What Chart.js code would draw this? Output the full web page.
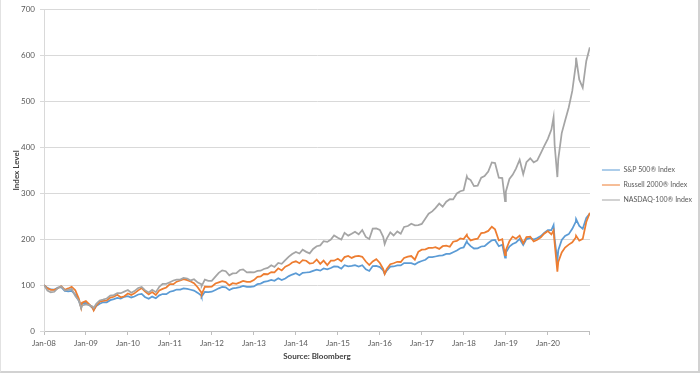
<!DOCTYPE html>
<html>
<head>
<meta charset="utf-8">
<script src="https://cdn.jsdelivr.net/npm/chart.js@4.4.0/dist/chart.umd.min.js"></script>
<style>
  html, body { margin: 0; padding: 0; background: #fff; }
  #wrap { position: relative; width: 697px; height: 371px; border-left: 1px solid #e2e2e2; border-right: 2px solid #d2d2d2; border-bottom: 2px solid #d2d2d2; }
</style>
</head>
<body>
<div id="wrap"><canvas id="grafico_idx"></canvas></div>
<script>
// dates of the observations (month ends plus a few intra-month extremes)
const datas = [
  '2008-01-01','2008-01-31','2008-02-29','2008-03-31','2008-04-30','2008-05-30','2008-06-30','2008-07-31','2008-08-29','2008-09-30','2008-10-31','2008-11-20','2008-11-28','2008-12-31',
  '2009-01-30','2009-02-27','2009-03-09','2009-03-31','2009-04-30','2009-05-29','2009-06-30','2009-07-31','2009-08-31','2009-09-30','2009-10-30','2009-11-30','2009-12-31',
  '2010-01-29','2010-02-26','2010-03-31','2010-04-30','2010-05-28','2010-06-30','2010-07-30','2010-08-31','2010-09-30','2010-10-29','2010-11-30','2010-12-31',
  '2011-01-31','2011-02-28','2011-03-31','2011-04-29','2011-05-31','2011-06-30','2011-07-29','2011-08-31','2011-09-30','2011-10-03','2011-10-31','2011-11-30','2011-12-30',
  '2012-01-31','2012-02-29','2012-03-30','2012-04-30','2012-05-31','2012-06-29','2012-07-31','2012-08-31','2012-09-28','2012-10-31','2012-11-30','2012-12-31',
  '2013-01-31','2013-02-28','2013-03-28','2013-04-30','2013-05-31','2013-06-28','2013-07-31','2013-08-30','2013-09-30','2013-10-31','2013-11-29','2013-12-31',
  '2014-01-31','2014-02-28','2014-03-31','2014-04-30','2014-05-30','2014-06-30','2014-07-31','2014-08-29','2014-09-30','2014-10-31','2014-11-28','2014-12-31',
  '2015-01-30','2015-02-27','2015-03-31','2015-04-30','2015-05-29','2015-06-30','2015-07-31','2015-08-31','2015-09-30','2015-10-30','2015-11-30','2015-12-31',
  '2016-01-29','2016-02-11','2016-02-29','2016-03-31','2016-04-29','2016-05-31','2016-06-30','2016-07-29','2016-08-31','2016-09-30','2016-10-31','2016-11-30','2016-12-30',
  '2017-01-31','2017-02-28','2017-03-31','2017-04-28','2017-05-31','2017-06-30','2017-07-31','2017-08-31','2017-09-29','2017-10-31','2017-11-30','2017-12-29',
  '2018-01-26','2018-01-31','2018-02-28','2018-03-29','2018-04-30','2018-05-31','2018-06-29','2018-07-31','2018-08-31','2018-09-28','2018-10-31','2018-11-30','2018-12-24','2018-12-31',
  '2019-01-31','2019-02-28','2019-03-29','2019-04-30','2019-05-31','2019-06-28','2019-07-31','2019-08-30','2019-09-30','2019-10-31','2019-11-29','2019-12-31',
  '2020-01-31','2020-02-19','2020-02-28','2020-03-23','2020-03-31','2020-04-30','2020-05-29','2020-06-30','2020-07-31','2020-08-31','2020-09-02','2020-09-30','2020-10-30','2020-11-30','2020-12-31'
];

const sp500 = [
  100, 93.9, 90.6, 90.1, 94.4, 95.4, 87.2, 86.3, 87.4, 79.4, 66.0, 51.2, 61.0, 61.5,
  56.2, 50.1, 46.1, 54.3, 59.4, 62.6, 62.6, 67.2, 69.5, 72.0, 70.6, 74.6, 75.9,
  73.1, 75.2, 79.6, 80.8, 74.2, 70.2, 75.0, 71.5, 77.7, 80.6, 80.4, 85.6,
  87.6, 90.4, 90.3, 92.9, 91.6, 89.9, 88.0, 83.0, 77.1, 74.9, 85.4, 84.9, 85.6,
  89.4, 93.0, 95.9, 95.2, 89.2, 92.8, 93.9, 95.8, 98.1, 96.2, 96.4, 97.1,
  102.0, 103.2, 106.9, 108.8, 111.1, 109.4, 114.8, 111.2, 114.5, 119.6, 123.0, 125.9,
  121.4, 126.6, 127.5, 128.3, 131.0, 133.5, 131.5, 136.4, 134.3, 137.4, 140.8, 140.2,
  135.9, 143.3, 140.8, 142.0, 143.5, 140.5, 143.3, 134.3, 130.8, 141.6, 141.7, 139.2,
  132.1, 124.6, 131.6, 140.3, 140.6, 142.8, 142.9, 148.0, 147.8, 147.7, 144.8, 149.7, 152.5,
  155.2, 161.0, 160.9, 162.4, 164.2, 165.0, 168.2, 168.3, 171.6, 175.4, 180.3, 182.1,
  195.6, 192.3, 184.8, 179.8, 180.3, 184.2, 185.1, 191.8, 197.6, 198.4, 184.7, 188.0, 160.1, 170.7,
  184.2, 189.6, 193.0, 200.6, 187.4, 200.3, 203.0, 199.3, 202.7, 206.9, 213.9, 220.0,
  219.7, 230.6, 201.2, 152.4, 176.0, 198.3, 207.3, 211.1, 222.8, 238.4, 243.9, 229.0, 222.7, 246.6, 255.8
];

const russell2000 = [
  100, 93.1, 89.6, 89.8, 93.3, 97.8, 90.0, 92.8, 96.5, 88.7, 70.2, 50.3, 61.8, 65.2,
  57.9, 50.8, 44.8, 55.2, 63.7, 65.5, 66.4, 72.7, 74.7, 78.9, 73.5, 75.7, 81.6,
  78.6, 82.1, 88.6, 93.6, 86.6, 79.6, 85.0, 78.6, 88.3, 91.8, 94.9, 102.3,
  102.0, 107.5, 110.1, 113.0, 110.7, 108.0, 104.0, 94.9, 84.1, 79.6, 96.7, 96.3, 96.7,
  103.5, 105.9, 108.4, 106.6, 99.5, 104.2, 102.7, 106.0, 109.3, 106.9, 107.3, 110.9,
  117.8, 118.9, 124.2, 123.7, 128.5, 127.6, 136.5, 132.0, 140.2, 143.6, 149.2, 151.9,
  147.6, 154.4, 153.1, 147.1, 148.1, 155.7, 146.2, 153.3, 143.8, 153.2, 153.2, 157.3,
  152.1, 161.0, 163.6, 159.3, 162.7, 163.7, 161.7, 151.4, 143.7, 151.7, 156.4, 148.3,
  135.2, 124.5, 135.0, 145.4, 147.6, 150.8, 150.4, 159.3, 161.9, 163.4, 155.5, 172.6, 177.2,
  177.8, 181.0, 180.9, 182.8, 178.9, 184.8, 186.0, 183.5, 194.6, 196.2, 201.6, 200.5,
  209.9, 205.6, 197.5, 199.7, 201.3, 213.3, 214.5, 218.1, 227.3, 221.5, 197.3, 200.2, 165.4, 176.1,
  195.7, 205.7, 201.0, 207.7, 191.3, 204.5, 205.6, 195.1, 198.9, 204.0, 212.1, 217.8,
  210.7, 219.1, 192.7, 129.4, 150.5, 171.1, 182.0, 188.2, 193.3, 203.9, 207.8, 196.8, 200.8, 237.6, 257.8
];

const nasdaq100 = [
  100, 88.3, 84.5, 85.5, 93.5, 97.4, 88.1, 89.8, 91.8, 76.4, 66.0, 49.7, 55.8, 58.1,
  56.4, 53.3, 50.0, 59.3, 66.5, 68.4, 70.9, 77.1, 78.2, 82.4, 82.4, 85.8, 89.2,
  83.5, 86.9, 93.7, 96.1, 89.0, 84.0, 89.8, 84.7, 96.3, 102.8, 102.7, 106.4,
  110.0, 112.1, 112.1, 115.6, 114.4, 110.2, 112.7, 105.6, 102.2, 97.8, 112.0, 109.2, 109.3,
  118.4, 126.8, 132.2, 130.3, 121.4, 125.5, 126.2, 133.0, 134.3, 127.6, 128.4, 127.6,
  131.0, 131.4, 135.2, 137.5, 143.4, 139.6, 148.2, 146.4, 154.4, 162.1, 167.8, 172.3,
  168.8, 177.2, 172.5, 169.2, 178.8, 184.7, 186.6, 195.8, 194.2, 199.4, 208.3, 203.2,
  199.1, 213.8, 207.9, 211.7, 216.2, 210.9, 220.1, 205.0, 200.5, 223.0, 223.7, 220.3,
  205.2, 189.4, 201.5, 215.1, 208.2, 217.0, 211.9, 226.9, 228.8, 233.9, 230.3, 230.7, 233.3,
  245.4, 255.7, 260.7, 267.8, 277.6, 270.8, 281.7, 287.2, 286.8, 299.7, 304.5, 306.8,
  336.8, 333.3, 328.8, 315.7, 316.8, 334.2, 337.7, 347.6, 367.4, 365.9, 334.2, 333.3, 283.0, 303.6,
  331.3, 340.4, 353.9, 373.2, 341.8, 367.9, 376.4, 367.5, 371.7, 387.7, 403.1, 418.9,
  438.9, 466.2, 405.9, 335.5, 374.8, 431.2, 458.3, 487.2, 523.1, 580.9, 595.7, 547.7, 530.1, 588.4, 618.2
];

const anos = [2008, 2009, 2010, 2011, 2012, 2013, 2014, 2015, 2016, 2017, 2018, 2019, 2020];
const nomes = ['S&P 500® Index', 'Russell 2000® Index', 'NASDAQ-100® Index'];
const cores = ['#5B9BD5', '#ED7D31', '#A5A5A5'];

// date string -> fractional year for the linear x axis
function paraAno(s) {
  const [y, m, d] = s.split('-').map(Number);
  const ini = Date.UTC(y, 0, 1);
  return y + (Date.UTC(y, m - 1, d) - ini) / (Date.UTC(y + 1, 0, 1) - ini);
}
const xs = datas.map(paraAno);
const pontos = (serie) => serie.map((v, i) => ({ x: xs[i], y: v }));

const fonte = { family: 'Lato, "Liberation Sans", sans-serif', size: 8 };
Chart.defaults.color = '#595959';

// nudge the legend a little to the right of the plot, like the original
const empurraLegenda = {
  id: 'empurraLegenda',
  afterLayout(chart) {
    chart.legend.left += 4;
    chart.legend.right += 4;
  }
};

const ctx = document.getElementById('grafico_idx').getContext('2d');
const grafico = new Chart(ctx, {
  type: 'line',
  data: {
    datasets: [
      { label: nomes[0], data: pontos(sp500), borderColor: cores[0], backgroundColor: cores[0], order: 2 },
      { label: nomes[1], data: pontos(russell2000), borderColor: cores[1], backgroundColor: cores[1], order: 1 },
      { label: nomes[2], data: pontos(nasdaq100), borderColor: cores[2], backgroundColor: cores[2], order: 0 }
    ]
  },
  plugins: [empurraLegenda],
  options: {
    responsive: true,
    maintainAspectRatio: false,
    animation: false,
    elements: {
      point: { radius: 0 },
      line: { borderWidth: 1.75, tension: 0 }
    },
    layout: { padding: { top: 5, right: 0, bottom: 6, left: 11 } },
    plugins: {
      tooltip: { enabled: false },
      legend: {
        position: 'right',
        maxWidth: 110,
        labels: {
          font: { family: fonte.family, size: 7 },
          usePointStyle: true,
          pointStyle: 'line',
          pointStyleWidth: 18,
          padding: 8,
          sort: (a, b) => a.datasetIndex - b.datasetIndex
        }
      }
    },
    scales: {
      x: {
        type: 'linear',
        min: 2008,
        max: 2021,
        afterFit: (s) => { s.height = 34; },
        ticks: {
          stepSize: 1,
          autoSkip: false,
          maxRotation: 0,
          font: fonte,
          padding: 4,
          callback: (v) => anos.includes(v) ? 'Jan-' + String(v).slice(2) : ''
        },
        grid: { drawOnChartArea: false, drawTicks: true, tickLength: 4, color: '#bfbfbf' },
        border: { color: '#bfbfbf' },
        title: {
          display: true,
          text: 'Source: Bloomberg',
          font: { family: fonte.family, size: 8, weight: 'bold' },
          color: '#404040',
          padding: { top: 0, bottom: 4 }
        }
      },
      y: {
        min: 0,
        max: 700,
        afterFit: (s) => { s.width = 32; },
        ticks: { stepSize: 100, font: fonte, padding: 5 },
        grid: { color: '#d9d9d9', tickLength: 4 },
        border: { color: '#d9d9d9' },
        title: {
          display: true,
          text: 'Index Level',
          font: { family: fonte.family, size: 8, weight: 'bold' },
          color: '#404040',
          padding: { top: 0, bottom: 0 }
        }
      }
    }
  }
});
</script>
</body>
</html>
